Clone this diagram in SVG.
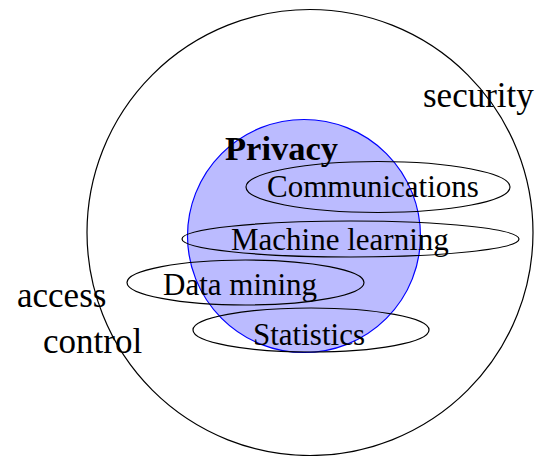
<svg xmlns="http://www.w3.org/2000/svg" width="535" height="456" viewBox="0 0 535 456">
  <style>
    .ring { fill: none; stroke: #000; stroke-width: 1.2; }
    .area { fill: #bbbbff; stroke: #0000ff; stroke-width: 1.2; }
    .lbl { font-family: "Liberation Serif", "Times New Roman", serif; fill: #000; }
    .outer { font-size: 35px; }
    .inner { font-size: 31px; }
    .title { font-size: 34.5px; font-weight: bold; }
  </style>
  <rect width="535" height="456" fill="#fff"/>

  <!-- security domain -->
  <g id="security">
    <circle class="ring" cx="310" cy="232.5" r="223"/>
  </g>

  <!-- privacy domain -->
  <g id="privacy">
    <circle class="area" cx="304" cy="236" r="116.5"/>
  </g>

  <!-- research fields -->
  <g id="communications">
    <ellipse class="ring" cx="378" cy="187" rx="132" ry="25.5"/>
  </g>
  <g id="machine-learning">
    <ellipse class="ring" cx="350.5" cy="239" rx="168.5" ry="18"/>
  </g>
  <g id="data-mining">
    <ellipse class="ring" cx="245.5" cy="282.5" rx="118.5" ry="22.5"/>
  </g>
  <g id="statistics">
    <ellipse class="ring" cx="311" cy="330" rx="118" ry="22"/>
  </g>

  <!-- labels -->
  <g id="labels">
    <text class="lbl outer" x="423" y="107">security</text>
    <text class="lbl outer" x="17" y="307">access</text>
    <text class="lbl outer" x="43" y="353">control</text>
    <text class="lbl title" x="225" y="160">Privacy</text>
    <text class="lbl inner" x="267" y="197">Communications</text>
    <text class="lbl inner" x="231" y="250">Machine learning</text>
    <text class="lbl inner" x="163" y="295">Data mining</text>
    <text class="lbl inner" x="253" y="345">Statistics</text>
  </g>
</svg>
